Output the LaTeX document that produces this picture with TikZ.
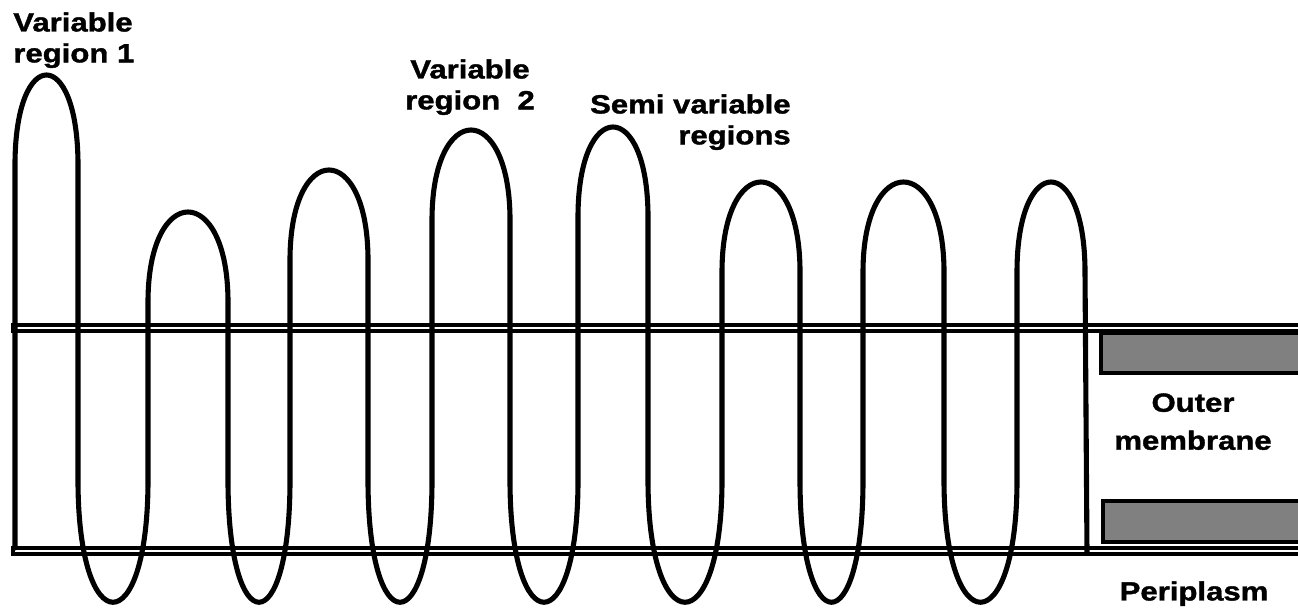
\documentclass[tikz,border=0pt]{standalone}
\usepackage{fontspec}
\newfontfamily\lblfont[FakeStretch=1.18, FakeBold=1.4]{Liberation Sans Bold}
\usepackage{tikz}
\usetikzlibrary{positioning}

\begin{document}
\begin{tikzpicture}[
  x=0.02cm, y=-0.02cm,
  lbl/.style={font=\lblfont\fontsize{15}{17.6}\selectfont, inner sep=0pt},
  strand/.style={draw, line width=2.9pt, line cap=round, line join=round},
  bilayer/.style={draw, line width=1.9pt},
  shade/.style={draw, line width=1.9pt, fill=black!50}
]
\useasboundingbox (0,0) rectangle (1298,611);

% Membrane
\draw[bilayer] (1300,325) -- (13,325) -- (13,331) -- (1300,331);
\draw[bilayer] (1300,548) -- (13,548) -- (13,554) -- (1300,554);
\draw[shade] (1101,333) rectangle (1310,373);
\draw[shade] (1103,501) rectangle (1310,542);

% Strands
\draw[strand] (15,548)
  foreach \xl/\xr/\yt/\nx in {15/78/75/148, 148/228/212/290, 290/368/170/432,
      432/510/130/578, 578/648/127/722, 722/800/182/863, 863/944/182/1017} {
    -- (\xl,\yt+90) .. controls (\xl,\yt-30) and (\xr,\yt-30) .. (\xr,\yt+90)
    -- (\xr,480) .. controls (\xr,643) and (\nx,643) .. (\nx,480)
  }
  -- (1017,272) .. controls (1017,152) and (1085,152) .. (1085,272) -- (1087,553);

% Labels
\node[lbl, align=left, anchor=north west] (vr1) at (13,12) {Variable\\region 1};
\node[lbl, align=center, anchor=north] (vr2) at (470,59) {Variable\\region\ \ 2};
\node[lbl, align=right, anchor=north east] (semi) at (791,94) {Semi variable\\regions};
\node[lbl, align=center, anchor=north] (outer) at (1193,393) {Outer\\[4pt]membrane};
\node[lbl, anchor=north] (peri) at (1194,581) {Periplasm};
\end{tikzpicture}
\end{document}
